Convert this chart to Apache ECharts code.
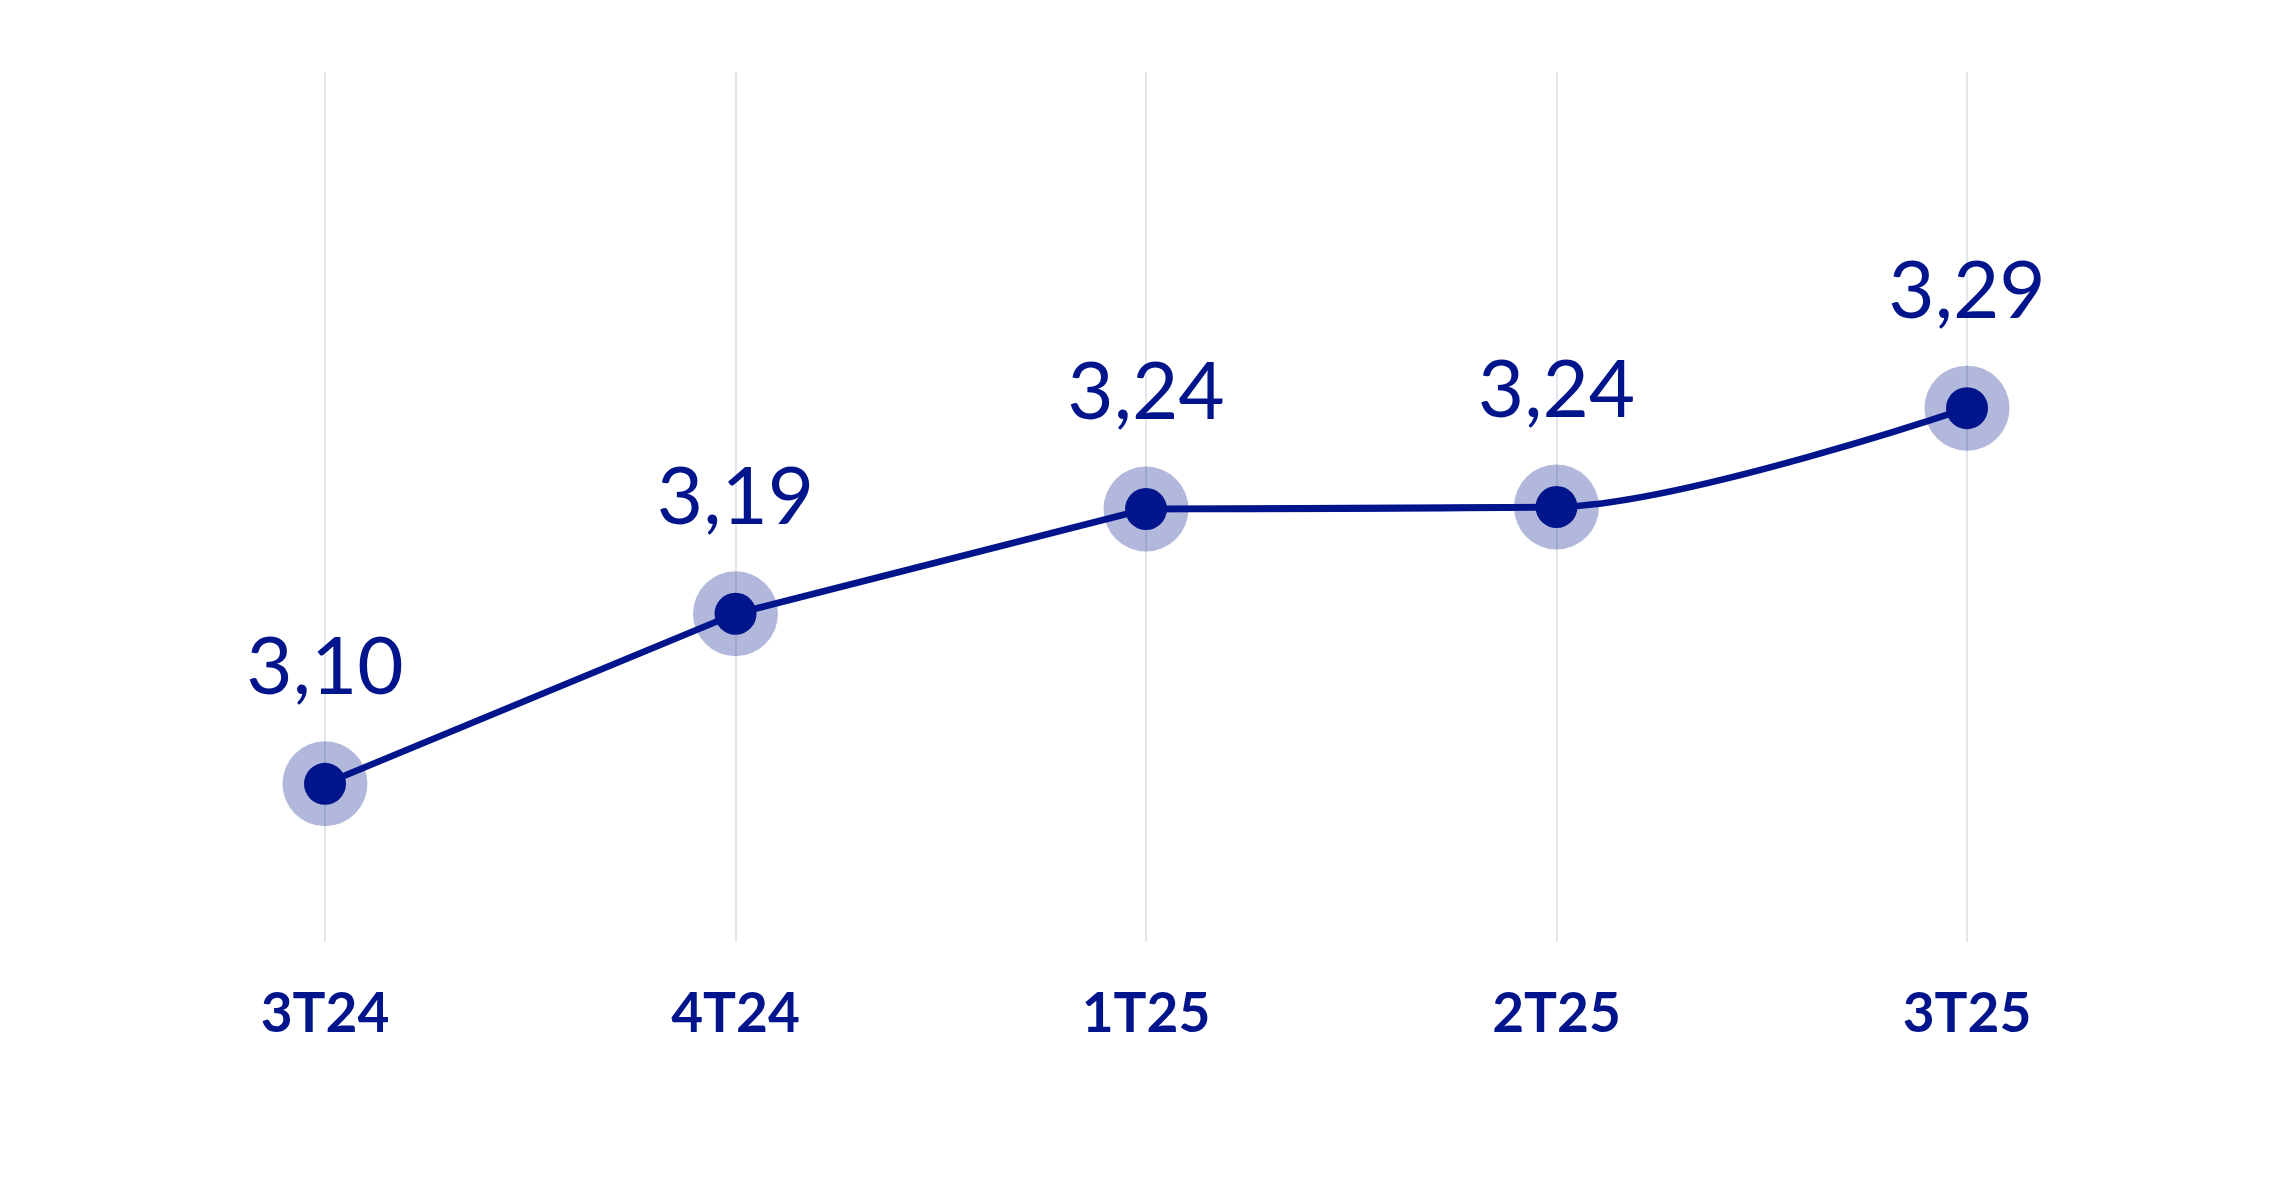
<!DOCTYPE html>
<html><head><meta charset="utf-8">
<script src="https://cdn.jsdelivr.net/npm/echarts@6/dist/echarts.min.js"></script>
<style>html,body{margin:0;padding:0;background:#fff;} #chart{width:2293px;height:1189px;}</style>
</head><body><div id="chart"></div>
<script>
// ---- data ----
const categories = ['3T24', '4T24', '1T25', '2T25', '3T25'];
const values = [3.10, 3.186, 3.239, 3.24, 3.29];
const curveFrom = 2; // last stretch drawn as a smooth curve

// ---- derived series ----
const straightPart = values.map((v, i) => (i <= curveFrom + 1 ? v : null));
const curvedPart = values.map((v, i) => (i >= curveFrom ? v : null));

const BLUE = '#00148C';
const HALO = 'rgba(0,20,140,0.3)';
const FONT = 'Lato';

const chart = echarts.init(document.getElementById('chart'), null, { renderer: 'canvas' });
chart.setOption({
  animation: false,
  backgroundColor: '#ffffff',
  grid: { left: 325, right: 326, top: 72, bottom: 247, containLabel: false },
  xAxis: {
    type: 'category',
    data: categories,
    boundaryGap: false,
    axisLine: { show: false },
    axisTick: { show: false },
    splitLine: { show: true, lineStyle: { color: '#E2E6ED', width: 2 } },
    axisLabel: {
      color: BLUE, fontFamily: FONT, fontWeight: 'bold', fontSize: 55, margin: 45
    }
  },
  yAxis: {
    type: 'value', min: 3.02, max: 3.46, show: false,
    splitLine: { show: false }
  },
  series: [
    {
      type: 'scatter', data: values, symbol: 'circle', symbolSize: 85,
      itemStyle: { color: HALO, opacity: 1 }, z: 1, clip: false, silent: true
    },
    {
      type: 'line', data: straightPart, showSymbol: false, smooth: false,
      lineStyle: { color: BLUE, width: 6.5 }, z: 2, clip: false
    },
    {
      type: 'line', data: curvedPart, showSymbol: false, smooth: 0.3,
      lineStyle: { color: BLUE, width: 6.5 }, z: 2, clip: false
    },
    {
      type: 'scatter', data: values, symbol: 'circle', symbolSize: 42,
      itemStyle: { color: BLUE, opacity: 1 }, z: 3, clip: false,
      label: {
        show: true, position: 'top', distance: 55,
        color: BLUE, fontFamily: FONT, fontSize: 80,
        formatter: p => p.value.toFixed(2).replace('.', ',')
      }
    }
  ]
});
</script></body></html>
